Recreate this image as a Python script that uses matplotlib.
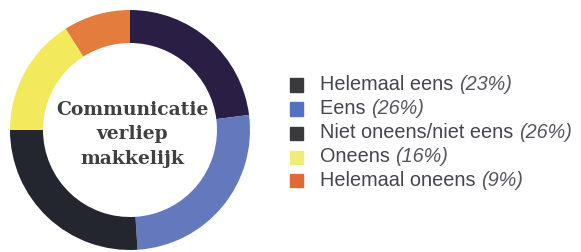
import matplotlib
matplotlib.use("Agg")
import matplotlib.pyplot as plt
from matplotlib.patches import Rectangle

# data
labels = ["Helemaal eens", "Eens", "Niet oneens/niet eens", "Oneens", "Helemaal oneens"]
shares = [23, 26, 26, 16, 9]
ring_colors = ["#2b1e45", "#6479bd", "#23262f", "#f2e95c", "#e37c3c"]
legend_colors = ["#3a3a3c", "#5271c0", "#3a3a3c", "#f1ec7a", "#e06a32"]
center_text = "Communicatie\nverliep\nmakkelijk"

W, H = 581, 252
fig = plt.figure(figsize=(W / 100, H / 100), dpi=100)

# donut, centre at (130, 130) px, radius 120 px
cx, cy, r = 130, 130, 120
ax = fig.add_axes([(cx - r) / W, (H - cy - r) / H, 2 * r / W, 2 * r / H])
ax.pie(shares, colors=ring_colors, startangle=90, counterclock=False,
       radius=1.0, wedgeprops=dict(width=0.275, linewidth=0))
ax.set_xlim(-1, 1)
ax.set_ylim(-1, 1)
ax.set_aspect("equal")
ax.axis("off")

ax.text(0.02, -0.035, center_text, ha="center", va="center", fontsize=13.5,
        family="DejaVu Serif", fontweight="bold", color="#404040",
        linespacing=1.45)

# legend drawn by hand
row_y = [85, 109, 133, 157, 180]
fig.canvas.draw()
renderer = fig.canvas.get_renderer()
for lab, share, col, y in zip(labels, shares, legend_colors, row_y):
    fig.patches.append(Rectangle((290 / W, (H - y - 6.5) / H), 13 / W, 13 / H,
                                 transform=fig.transFigure, color=col,
                                 figure=fig))
    t = fig.text(320 / W, (H - y) / H, lab + " ", ha="left", va="center",
                 fontsize=14.3, family="Liberation Sans", color="#45454f")
    bb = t.get_window_extent(renderer)
    fig.text(bb.x1 / W, (H - y) / H, f"({share}%)", ha="left", va="center",
             fontsize=14.3, family="Liberation Sans", style="italic",
             color="#55555f")

fig.savefig("out.png", dpi=100)
